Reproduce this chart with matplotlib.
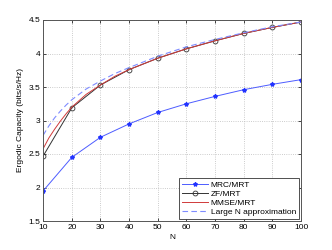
import matplotlib.pyplot as plt

plt.rcParams['font.family'] = ['Liberation Sans', 'DejaVu Sans']
plt.rcParams['font.size'] = 6

N = [10, 20, 30, 40, 50, 60, 70, 80, 90, 100]
mrc = [1.95, 2.45, 2.75, 2.95, 3.12, 3.25, 3.36, 3.46, 3.54, 3.61]
zf = [2.47, 3.19, 3.53, 3.76, 3.93, 4.07, 4.19, 4.30, 4.39, 4.47]

nSmooth = [10, 12, 14, 16, 18, 20, 25, 30, 35, 40, 50, 60, 70, 80, 90, 100]
mmse = [2.58, 2.74, 2.87, 2.99, 3.10, 3.20, 3.39, 3.53, 3.66, 3.76,
        3.93, 4.07, 4.19, 4.30, 4.39, 4.47]
largeN = [2.78, 2.92, 3.04, 3.14, 3.23, 3.31, 3.47, 3.59, 3.70, 3.79,
          3.96, 4.10, 4.21, 4.31, 4.40, 4.47]

fig = plt.figure(figsize=(3.32, 2.5), dpi=100)
ax = fig.add_axes([0.13, 0.116, 0.777, 0.804])

ax.plot(N, mrc, '-*', color='#4d5cff', lw=0.7, ms=3, mec='#2233ff', label='MRC/MRT')
ax.plot(N, zf, '-o', color='#333333', lw=0.7, ms=3.5, mfc='none', mew=0.6, label='ZF/MRT')
ax.plot(nSmooth, mmse, '-', color='#d03a3a', lw=0.7, label='MMSE/MRT')
ax.plot(nSmooth, largeN, '--', color='#7f8cff', lw=0.8, dashes=(5, 3), label='Large N approximation')

ax.set_xlim(10, 100)
ax.set_ylim(1.5, 4.5)
ax.set_xticks(range(10, 101, 10))
ax.set_yticks([1.5, 2, 2.5, 3, 3.5, 4, 4.5])
ax.set_yticklabels(['1.5', '2', '2.5', '3', '3.5', '4', '4.5'])
ax.set_xlabel('N', labelpad=2)
ax.set_ylabel('Ergodic Capacity (bits/s/Hz)', labelpad=3)
ax.grid(True, linestyle=':', color='#bbbbbb', lw=0.6)
ax.tick_params(direction='in', length=2.5, width=0.5, pad=2, top=True, right=True)
for s in ax.spines.values():
    s.set_linewidth(0.7)
    s.set_color('#555555')

leg = ax.legend(loc='lower right', fancybox=False, framealpha=1, borderpad=0.3,
                labelspacing=0.15, handlelength=3.2, handletextpad=0.3, borderaxespad=0.3)
leg.get_frame().set_edgecolor('#333333')
leg.get_frame().set_linewidth(0.6)

fig.savefig('out.png', dpi=100)
